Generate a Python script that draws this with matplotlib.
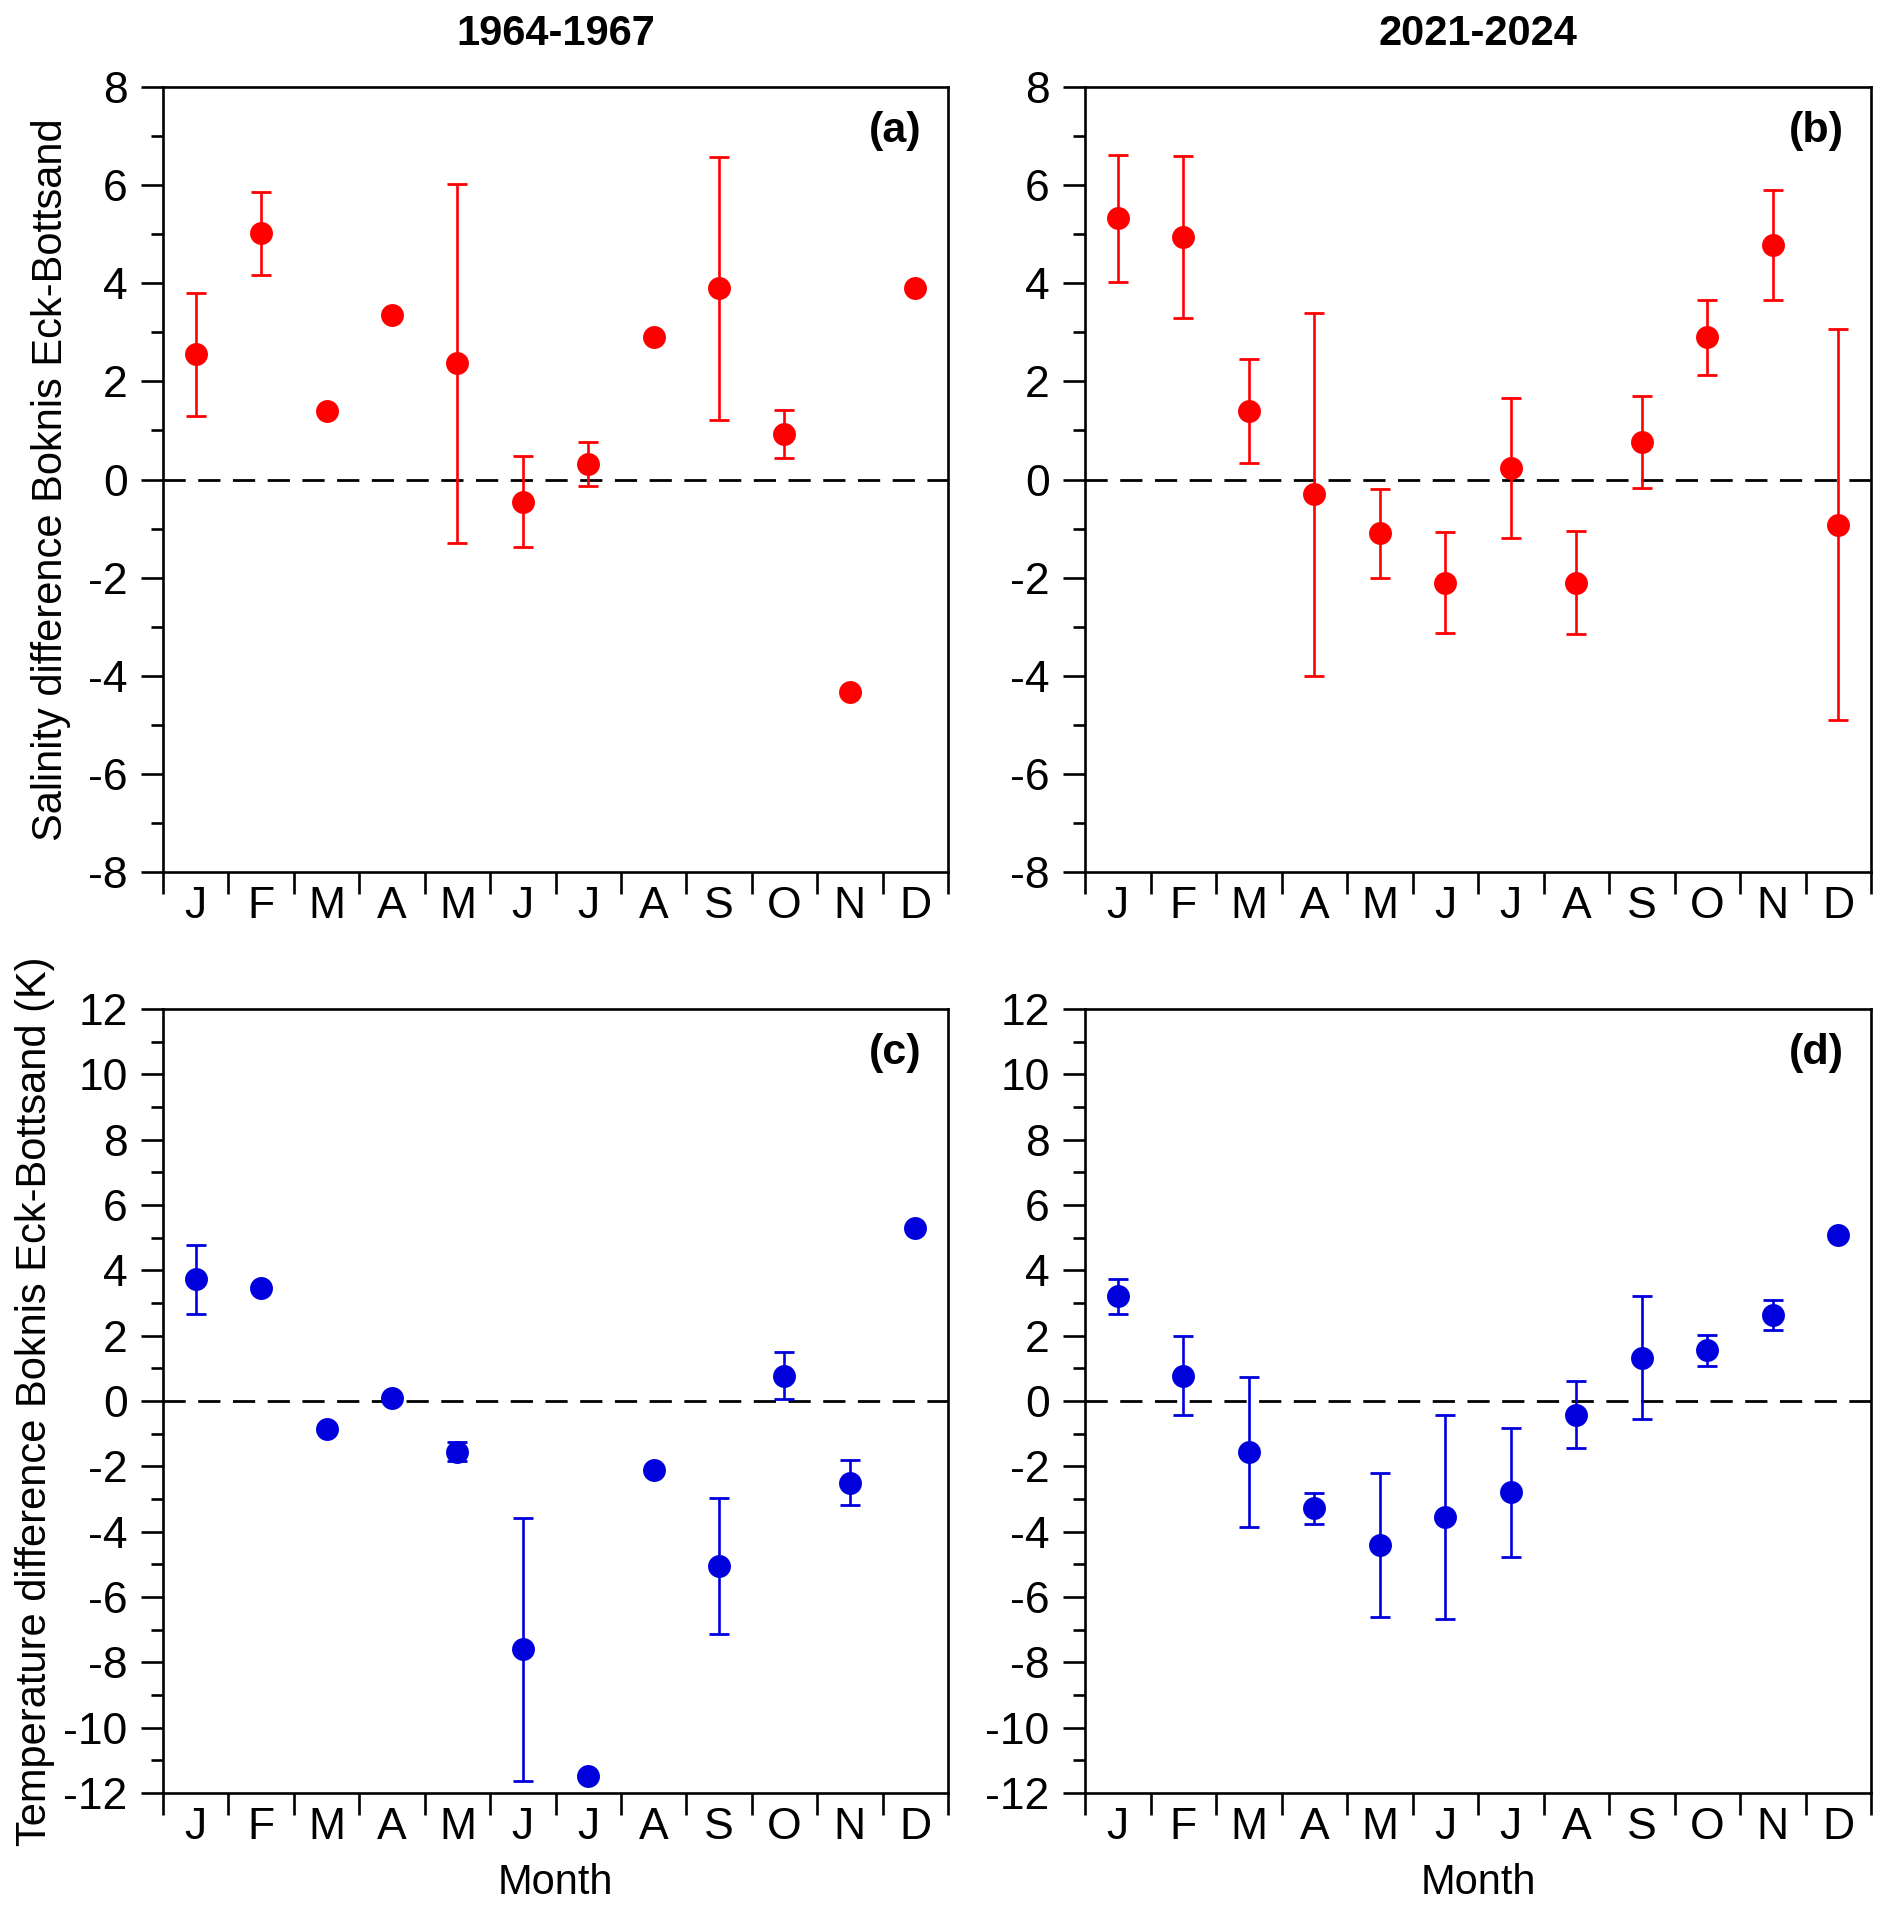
import matplotlib
matplotlib.use("Agg")
import matplotlib.pyplot as plt
import numpy as np
from matplotlib.ticker import MultipleLocator, FixedLocator, NullFormatter

plt.rcParams['font.family'] = ['Liberation Sans', 'DejaVu Sans']

months = ['J', 'F', 'M', 'A', 'M', 'J', 'J', 'A', 'S', 'O', 'N', 'D']
periods = ['1964-1967', '2021-2024']

# Salinity difference (mean, error half-width); NaN = no error bar
sal_1964 = [2.55, 5.02, 1.39, 3.35, 2.37, -0.45, 0.32, 2.91, 3.90, 0.93, -4.34, 3.90]
sal_1964_err = [1.25, 0.85, np.nan, np.nan, 3.66, 0.93, 0.45, np.nan, 2.68, 0.49, np.nan, np.nan]
sal_2021 = [5.32, 4.95, 1.39, -0.30, -1.10, -2.10, 0.23, -2.10, 0.76, 2.90, 4.78, -0.92]
sal_2021_err = [1.30, 1.65, 1.06, 3.70, 0.90, 1.02, 1.43, 1.05, 0.94, 0.76, 1.12, 3.98]

# Temperature difference (K)
tmp_1964 = [3.72, 3.45, -0.85, 0.10, -1.55, -7.60, -11.48, -2.10, -5.05, 0.78, -2.50, 5.30]
tmp_1964_err = [1.07, np.nan, np.nan, np.nan, 0.30, 4.03, np.nan, np.nan, 2.07, 0.72, 0.68, np.nan]
tmp_2021 = [3.20, 0.78, -1.56, -3.28, -4.40, -3.55, -2.80, -0.42, 1.32, 1.55, 2.62, 5.07]
tmp_2021_err = [0.54, 1.20, 2.30, 0.47, 2.20, 3.12, 1.98, 1.03, 1.88, 0.47, 0.46, np.nan]

panel_labels = ['(a)', '(b)', '(c)', '(d)']
ylabels = ['Salinity difference Boknis Eck-Bottsand',
           'Temperature difference Boknis Eck-Bottsand (K)']

W, H = 1892, 1914
fig = plt.figure(figsize=(W / 100, H / 100), dpi=100)

def ax_at(x0, y0, x1, y1):
    return fig.add_axes([x0 / W, 1 - y1 / H, (x1 - x0) / W, (y1 - y0) / H])

axes = [ax_at(163, 87, 948, 872), ax_at(1085, 87, 1871, 872),
        ax_at(163, 1009, 948, 1793), ax_at(1085, 1009, 1871, 1793)]

data = [(sal_1964, sal_1964_err), (sal_2021, sal_2021_err),
        (tmp_1964, tmp_1964_err), (tmp_2021, tmp_2021_err)]
colors = ['#FF0000', '#FF0000', '#0000DD', '#0000DD']
ylims = [(-8, 8), (-8, 8), (-12, 12), (-12, 12)]

x = np.arange(1, 13)
FS = 32
for i, ax in enumerate(axes):
    vals, errs = data[i]
    vals = np.array(vals, dtype=float)
    errs = np.array(errs, dtype=float)
    c = colors[i]
    ax.axhline(0, color='black', lw=2.0, dashes=(8, 4.5), zorder=1)
    has = ~np.isnan(errs)
    ax.errorbar(x[has], vals[has], yerr=errs[has], fmt='none', ecolor=c,
                elinewidth=1.9, capsize=7.5, capthick=2.0, zorder=2)
    ax.plot(x, vals, 'o', color=c, markersize=16.5, markeredgewidth=0, zorder=3)

    ax.set_xlim(0.5, 12.5)
    ax.set_ylim(*ylims[i])
    ax.xaxis.set_major_locator(FixedLocator(np.arange(0.5, 13, 1)))
    ax.xaxis.set_major_formatter(NullFormatter())
    ax.xaxis.set_minor_locator(FixedLocator(x))
    ax.set_xticklabels(months, minor=True)
    ax.tick_params(axis='x', which='major', direction='out', length=15.5, width=1.9)
    ax.tick_params(axis='x', which='minor', length=0, pad=10, labelsize=FS)
    ax.yaxis.set_major_locator(MultipleLocator(2))
    ax.yaxis.set_minor_locator(MultipleLocator(1))
    ax.tick_params(axis='y', which='major', direction='out', length=15.5, width=1.9,
                   pad=10, labelsize=FS)
    ax.tick_params(axis='y', which='minor', direction='out', length=8.5, width=1.9)
    ax.set_yticklabels([f'{int(v)}' for v in ax.get_yticks()])
    for s in ax.spines.values():
        s.set_linewidth(1.9)
    ax.text(0.966, 0.944, panel_labels[i], transform=ax.transAxes, ha='right',
            va='center', fontsize=31, fontweight='bold')

axes[0].set_title(periods[0], fontsize=30, fontweight='bold', pad=30)
axes[1].set_title(periods[1], fontsize=30, fontweight='bold', pad=30)
axes[0].set_ylabel(ylabels[0], fontsize=30, labelpad=12)
axes[2].set_ylabel(ylabels[1], fontsize=30, labelpad=6)
axes[2].set_xlabel('Month', fontsize=30, labelpad=11)
axes[3].set_xlabel('Month', fontsize=30, labelpad=11)

fig.savefig('out.png', dpi=100)
